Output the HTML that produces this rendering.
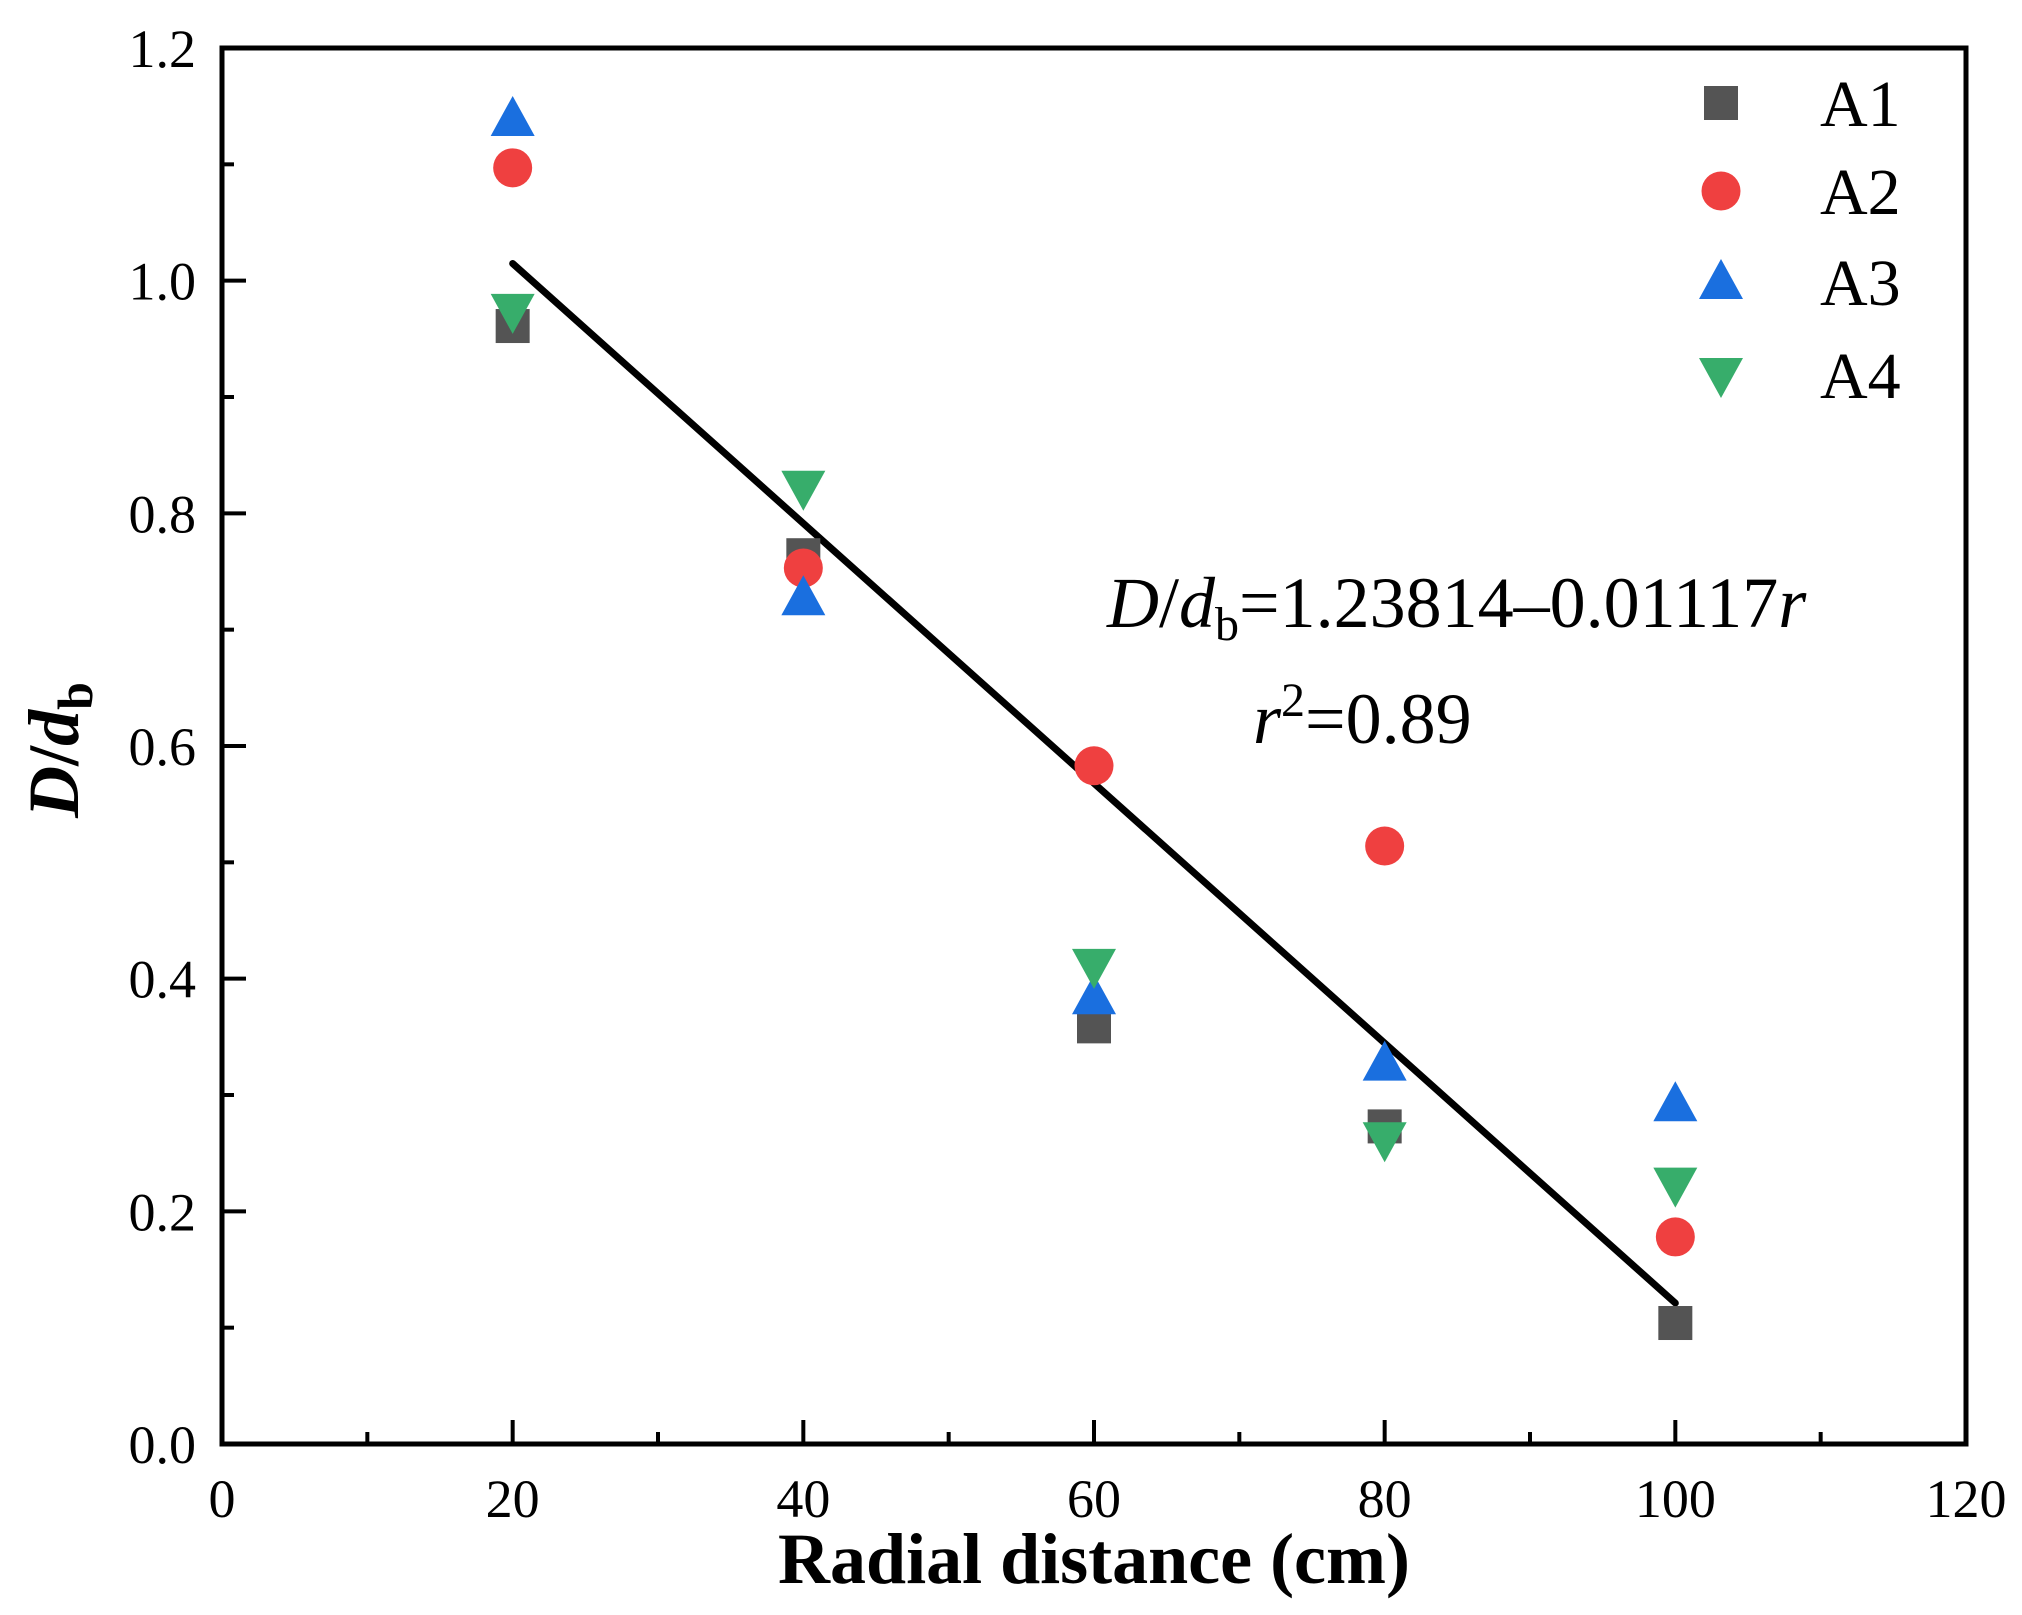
<!DOCTYPE html>
<html><head><meta charset="utf-8"><style>
html,body{margin:0;padding:0;background:#fff}
svg{display:block;font-family:"Liberation Serif",serif}
</style></head><body>
<svg id="chart" width="2022" height="1615" viewBox="0 0 2022 1615" xmlns="http://www.w3.org/2000/svg">
<g id="marks"></g>
</svg>
<script>
const xCats=[20,40,60,80,100];
const a1=[0.961,0.764,0.359,0.273,0.104];
const a2=[1.097,0.753,0.583,0.514,0.178];
const a3=[1.139,0.727,0.384,0.327,0.292];
const a4=[0.974,0.822,0.411,0.262,0.223];
const xTicks=[0,20,40,60,80,100,120];
const yTicks=["0.0","0.2","0.4","0.6","0.8","1.0","1.2"];
const fitA=1.23814, fitB=-0.01117;
const fitRange=[20,100];

const L=222,R=1966,T=48,B=1444;
const sx=v=>L+(v-0)/(120-0)*(R-L);
const sy=v=>B-(v-0)/(1.2-0)*(B-T);
const NS="http://www.w3.org/2000/svg";
const svg=document.getElementById('chart');
function mk(tag,attrs,parent){const e=document.createElementNS(NS,tag);for(const k in attrs)e.setAttribute(k,attrs[k]);(parent||svg).appendChild(e);return e;}

for(let i=0;i<=12;i++){const x=sx(i*10);const len=(i%2===0)?24:12;
 const t=mk('line',{x1:x,x2:x,y1:B,y2:B-len,stroke:'#000','stroke-width':4});
 
 }
for(let i=0;i<=12;i++){const y=sy(i*0.1);const len=(i%2===0)?24:12;
 const t=mk('line',{x1:L,x2:L+len,y1:y,y2:y,stroke:'#000','stroke-width':4});
 
 }
xTicks.forEach(v=>{const t=mk('text',{x:sx(v),y:1517,'text-anchor':'middle','font-size':54});t.textContent=v;
 
 });
yTicks.forEach(v=>{const t=mk('text',{x:196,y:sy(parseFloat(v))+19,'text-anchor':'end','font-size':54});t.textContent=v;
 
 });

const fr=mk('rect',{x:L,y:T,width:R-L,height:B-T,fill:'none',stroke:'#000','stroke-width':5});



const fl=mk('line',{x1:sx(fitRange[0]),y1:sy(fitA+fitB*fitRange[0]),x2:sx(fitRange[1]),y2:sy(fitA+fitB*fitRange[1]),stroke:'#000','stroke-width':7,'stroke-linecap':'round'});



function marker(type,cx,cy,parent){
 if(type==='sq')return mk('rect',{x:cx-17,y:cy-17,width:34,height:34,fill:'#545454'},parent);
 if(type==='ci')return mk('circle',{cx:cx,cy:cy,r:19.5,fill:'#EF4040'},parent);
 if(type==='up')return mk('polygon',{points:`${cx-22},${cy+17} ${cx+22},${cy+17} ${cx},${cy-23}`,fill:'#1A6FDF'},parent);
 return mk('polygon',{points:`${cx-22},${cy-17} ${cx+22},${cy-17} ${cx},${cy+23}`,fill:'#37AD6B'},parent);
}
const series=[['A1',a1,'sq'],['A2',a2,'ci'],['A3',a3,'up'],['A4',a4,'dn']];
series.forEach(([n,arr,t])=>{arr.forEach((v,i)=>{const m=marker(t,sx(xCats[i]),sy(v));
 
 });});

const legY=[103,191,282,375];
series.forEach(([n,arr,t],i)=>{const g=mk('g',{});
 
 
 marker(t,1721,legY[i],g);
 const tx=mk('text',{x:1820,y:legY[i]+23,'font-size':66},g);tx.textContent=n;});
</script>
<svg style="position:absolute;left:0;top:0" width="2022" height="1615" xmlns="http://www.w3.org/2000/svg" font-family="Liberation Serif, serif">
<text x="1107" y="627" font-size="72"><tspan font-style="italic">D</tspan>/<tspan font-style="italic">d</tspan><tspan font-size="48" dy="13">b</tspan><tspan dy="-13">=1.23814–0.01117</tspan><tspan font-style="italic">r</tspan></text>
<text x="1253" y="743" font-size="72"><tspan font-style="italic">r</tspan><tspan font-size="48" dy="-27">2</tspan><tspan dy="27">=0.89</tspan></text>
<text x="1094" y="1583" text-anchor="middle" font-size="72" font-weight="bold">Radial distance (cm)</text>
<text transform="translate(78,750) rotate(-90)" text-anchor="middle" font-size="72" font-weight="bold"><tspan font-style="italic">D</tspan>/<tspan font-style="italic">d</tspan><tspan font-size="50" dy="14">b</tspan></text>
</svg>
</body></html>
